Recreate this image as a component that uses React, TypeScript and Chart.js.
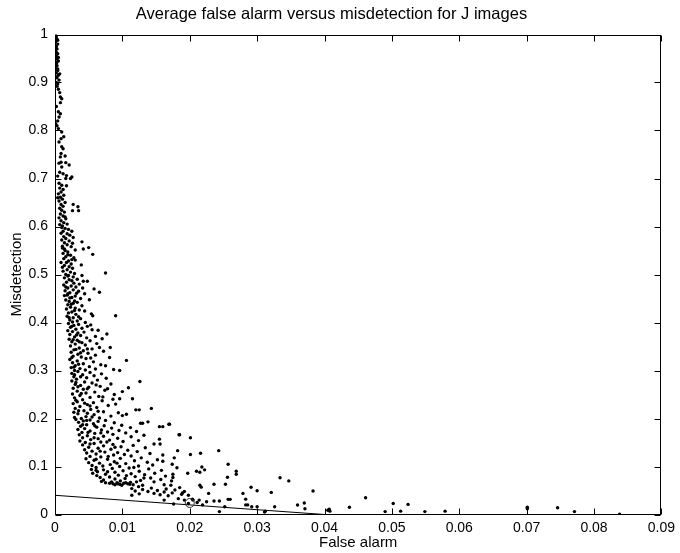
import { useEffect, useRef } from "react";
import { Chart, registerables } from "chart.js";

Chart.register(...registerables);

const chartTitle = "Average false alarm versus misdetection for J images";
const xAxisLabel = "False alarm";
const yAxisLabel = "Misdetection";

const xMin = 0;
const xMax = 0.09;
const xStep = 0.01;
const yMin = 0;
const yMax = 1;
const yStep = 0.1;

// [false alarm, misdetection]
const scatterPoints: [number, number][] = [
  // 1.0 - 0.9
  [0.0002, 0.995], [0.0003, 0.99], [0.0001, 0.985], [0.0004, 0.98], [0.0002, 0.975], [0.0003, 0.97], [0.0001, 0.965],
  [0.0004, 0.96], [0.0002, 0.955], [0.0003, 0.95], [0.0005, 0.945], [0.0002, 0.94], [0.0003, 0.935], [0.0001, 0.93],
  [0.0004, 0.925], [0.0002, 0.92], [0.0005, 0.915], [0.0003, 0.91], [0.0006, 0.905], [0.0002, 0.9], [0.0001, 0.998],
  [0.0004, 0.988], [0.0002, 0.962], [0.0005, 0.952], [0.0003, 0.943], [0.0001, 0.912], [0.0004, 0.928], [0.0007, 0.918],
  // 0.9 - 0.8
  [0.0004, 0.897], [0.0005, 0.886], [0.0007, 0.879], [0.0008, 0.87], [0.001, 0.866], [0.0008, 0.858], [0.0005, 0.839],
  [0.0008, 0.835], [0.0006, 0.828], [0.0001, 0.814], [0.0003, 0.81], [0.0005, 0.804], [0.0002, 0.85], [0.0003, 0.892],
  [0.0004, 0.82],
  // 0.8 - 0.7
  [0.001, 0.797], [0.0013, 0.787], [0.0009, 0.783], [0.0006, 0.776], [0.001, 0.766], [0.0012, 0.762], [0.0008, 0.745],
  [0.0015, 0.747], [0.0009, 0.734], [0.0016, 0.733], [0.0006, 0.732], [0.001, 0.724], [0.0021, 0.728], [0.0007, 0.713],
  [0.0012, 0.71], [0.0017, 0.706], [0.0016, 0.7], [0.0023, 0.7], [0.0025, 0.703], [0.0004, 0.705], [0.0009, 0.752],
  // 0.7 - 0.6
  [0.0006, 0.69], [0.001, 0.686], [0.0007, 0.68], [0.0012, 0.677], [0.0009, 0.672], [0.0005, 0.668], [0.0013, 0.665],
  [0.0008, 0.661], [0.0011, 0.657], [0.0006, 0.653], [0.0015, 0.65], [0.0009, 0.646], [0.0027, 0.646], [0.0034, 0.641],
  [0.0012, 0.642], [0.0007, 0.638], [0.0026, 0.633], [0.0035, 0.633], [0.001, 0.634], [0.0014, 0.63], [0.0008, 0.626],
  [0.0012, 0.622], [0.0006, 0.618], [0.0016, 0.616], [0.0009, 0.612], [0.0013, 0.608], [0.0007, 0.604], [0.0011, 0.601],
  [0.0018, 0.605], [0.0015, 0.62], [0.0004, 0.66], [0.0017, 0.685],
  // 0.6 - 0.5
  [0.001, 0.598], [0.0015, 0.596], [0.002, 0.594], [0.0012, 0.59], [0.0025, 0.59], [0.0009, 0.586], [0.0018, 0.585],
  [0.0022, 0.582], [0.0013, 0.579], [0.0027, 0.577], [0.0016, 0.575], [0.001, 0.572], [0.0021, 0.57], [0.004, 0.568],
  [0.0014, 0.566], [0.0018, 0.562], [0.0011, 0.559], [0.0024, 0.558], [0.005, 0.556], [0.0042, 0.553], [0.003, 0.551],
  [0.0015, 0.55], [0.0019, 0.547], [0.0012, 0.544], [0.0056, 0.542], [0.0023, 0.54], [0.0016, 0.537], [0.0028, 0.535],
  [0.0013, 0.533], [0.003, 0.53], [0.002, 0.528], [0.0017, 0.525], [0.0024, 0.522], [0.0039, 0.52], [0.0014, 0.519],
  [0.0021, 0.516], [0.0026, 0.513], [0.0018, 0.51], [0.0012, 0.507], [0.0023, 0.505], [0.0075, 0.503], [0.0029, 0.502],
  [0.0016, 0.5], [0.0011, 0.555], [0.0026, 0.565], [0.0009, 0.525], [0.0014, 0.553], [0.0019, 0.541], [0.0025, 0.531],
  [0.0011, 0.515],
  // 0.5 - 0.4
  [0.002, 0.498], [0.004, 0.498], [0.0027, 0.495], [0.0014, 0.493], [0.0033, 0.49], [0.0021, 0.489], [0.0042, 0.486],
  [0.0048, 0.486], [0.0017, 0.484], [0.0028, 0.482], [0.0036, 0.48], [0.0013, 0.478], [0.0024, 0.476], [0.0031, 0.474],
  [0.0019, 0.472], [0.0058, 0.47], [0.0027, 0.468], [0.0015, 0.466], [0.0035, 0.465], [0.0066, 0.463], [0.0022, 0.462],
  [0.0044, 0.46], [0.0018, 0.457], [0.003, 0.455], [0.0025, 0.452], [0.0038, 0.45], [0.0051, 0.4475], [0.0016, 0.447],
  [0.0021, 0.444], [0.0033, 0.442], [0.0027, 0.44], [0.0019, 0.437], [0.004, 0.435], [0.0023, 0.432], [0.003, 0.43],
  [0.0017, 0.428], [0.0036, 0.426], [0.0044, 0.424], [0.0025, 0.422], [0.002, 0.42], [0.0054, 0.418], [0.0031, 0.417],
  [0.009, 0.414], [0.0056, 0.414], [0.0018, 0.413], [0.0027, 0.41], [0.0038, 0.408], [0.0022, 0.405], [0.0033, 0.403],
  [0.0045, 0.4], [0.0026, 0.401], [0.0019, 0.46], [0.0041, 0.472], [0.0029, 0.445], [0.0019, 0.497], [0.0025, 0.487],
  [0.0016, 0.474], [0.0022, 0.451], [0.0014, 0.456], [0.0032, 0.461], [0.0024, 0.438], [0.0029, 0.425], [0.0021, 0.41],
  [0.0035, 0.412],
  // 0.4 - 0.3
  [0.002, 0.398], [0.0035, 0.396], [0.0028, 0.394], [0.0048, 0.392], [0.0023, 0.39], [0.004, 0.388], [0.0031, 0.386],
  [0.0055, 0.385], [0.0019, 0.383], [0.0026, 0.381], [0.0043, 0.38], [0.0034, 0.378], [0.0077, 0.376], [0.0022, 0.375],
  [0.0038, 0.373], [0.006, 0.371], [0.0029, 0.37], [0.0047, 0.368], [0.007, 0.366], [0.0021, 0.365], [0.0033, 0.363],
  [0.0052, 0.362], [0.0025, 0.36], [0.004, 0.358], [0.0062, 0.356], [0.003, 0.355], [0.0045, 0.353], [0.0023, 0.351],
  [0.0082, 0.348], [0.0066, 0.348], [0.0036, 0.347], [0.0055, 0.345], [0.0028, 0.343], [0.0042, 0.341], [0.0072, 0.34],
  [0.0024, 0.338], [0.0049, 0.336], [0.0034, 0.334], [0.006, 0.332], [0.0027, 0.33], [0.0039, 0.328], [0.0081, 0.327],
  [0.0046, 0.325], [0.0022, 0.323], [0.0106, 0.321], [0.0033, 0.32], [0.0057, 0.318], [0.0026, 0.316], [0.0042, 0.314],
  [0.0068, 0.312], [0.003, 0.31], [0.0051, 0.308], [0.0024, 0.306], [0.0037, 0.304], [0.0087, 0.302], [0.0096, 0.3],
  [0.0045, 0.301], [0.006, 0.303], [0.0029, 0.3], [0.0075, 0.31], [0.0053, 0.395], [0.0064, 0.384], [0.0025, 0.392],
  [0.0032, 0.374], [0.0027, 0.364], [0.0036, 0.36], [0.0031, 0.344], [0.0038, 0.337], [0.0025, 0.327], [0.0035, 0.313],
  [0.0028, 0.307], [0.0048, 0.345], [0.0053, 0.326],
  // 0.3 - 0.2
  [0.0034, 0.298], [0.0052, 0.296], [0.0025, 0.294], [0.0069, 0.293], [0.0041, 0.291], [0.0058, 0.289], [0.0028, 0.287],
  [0.0047, 0.285], [0.0076, 0.284], [0.0032, 0.282], [0.0063, 0.28], [0.0126, 0.277], [0.0025, 0.278], [0.0044, 0.276],
  [0.0055, 0.274], [0.0083, 0.272], [0.003, 0.271], [0.0038, 0.269], [0.0067, 0.267], [0.005, 0.265], [0.0109, 0.264],
  [0.0027, 0.263], [0.0042, 0.261], [0.0074, 0.259], [0.0033, 0.257], [0.01, 0.256], [0.0059, 0.255], [0.0046, 0.253],
  [0.0026, 0.251], [0.0088, 0.25], [0.0037, 0.248], [0.0065, 0.246], [0.0052, 0.244], [0.0029, 0.243], [0.0096, 0.241],
  [0.0115, 0.241], [0.0086, 0.24], [0.0041, 0.239], [0.007, 0.237], [0.0033, 0.235], [0.0057, 0.233], [0.0027, 0.231],
  [0.0048, 0.229], [0.0079, 0.227], [0.0037, 0.225], [0.0062, 0.223], [0.0143, 0.221], [0.003, 0.221], [0.0125, 0.218],
  [0.012, 0.218], [0.0053, 0.219], [0.0043, 0.216], [0.0072, 0.214], [0.0028, 0.213], [0.0106, 0.209], [0.0034, 0.21],
  [0.0058, 0.208], [0.01, 0.206], [0.0083, 0.205], [0.0046, 0.204], [0.0029, 0.202], [0.0066, 0.201], [0.0039, 0.2],
  [0.009, 0.23], [0.0061, 0.27], [0.0094, 0.212], [0.0029, 0.291], [0.0038, 0.287], [0.0031, 0.275], [0.0048, 0.262],
  [0.0034, 0.266], [0.0039, 0.252], [0.0031, 0.238], [0.0044, 0.232], [0.0052, 0.226], [0.0035, 0.216], [0.0048, 0.211],
  [0.0055, 0.203], [0.0071, 0.245], [0.0078, 0.262], [0.0064, 0.215],
  // 0.2 - 0.15
  [0.0031, 0.198], [0.0052, 0.197], [0.0075, 0.196], [0.0042, 0.195], [0.0138, 0.193], [0.0064, 0.194], [0.0127, 0.19],
  [0.013, 0.19], [0.0169, 0.188], [0.017, 0.188], [0.0035, 0.192], [0.0088, 0.191], [0.0057, 0.189], [0.0047, 0.187],
  [0.0099, 0.186], [0.0073, 0.185], [0.0038, 0.184], [0.016, 0.183], [0.0155, 0.183], [0.0062, 0.182], [0.0112, 0.181],
  [0.0084, 0.18], [0.0044, 0.179], [0.0034, 0.177], [0.0069, 0.176], [0.0095, 0.175], [0.0052, 0.174], [0.0121, 0.173],
  [0.0078, 0.172], [0.004, 0.171], [0.0105, 0.17], [0.0059, 0.169], [0.0086, 0.167], [0.0184, 0.166], [0.0036, 0.166],
  [0.0132, 0.165], [0.0048, 0.164], [0.0072, 0.163], [0.0113, 0.162], [0.0201, 0.16], [0.0041, 0.16], [0.0093, 0.159],
  [0.0064, 0.158], [0.0155, 0.157], [0.0053, 0.156], [0.0081, 0.155], [0.0124, 0.154], [0.0037, 0.153], [0.0101, 0.152],
  [0.0068, 0.151], [0.0045, 0.15], [0.0185, 0.166], [0.0047, 0.196], [0.0059, 0.185], [0.0041, 0.187], [0.0068, 0.17],
  [0.0049, 0.171], [0.0058, 0.16], [0.0077, 0.151],
  // 0.15 - 0.1
  [0.0147, 0.147], [0.0156, 0.147], [0.0058, 0.148], [0.0086, 0.146], [0.0041, 0.145], [0.0116, 0.144], [0.0072, 0.143],
  [0.0098, 0.141], [0.005, 0.14], [0.0134, 0.139], [0.0064, 0.138], [0.0083, 0.136], [0.0044, 0.135], [0.0182, 0.133],
  [0.0243, 0.133], [0.0108, 0.134], [0.0055, 0.132], [0.0122, 0.131], [0.0074, 0.13], [0.0093, 0.129], [0.0047, 0.128],
  [0.0216, 0.1275], [0.0141, 0.127], [0.0061, 0.126], [0.016, 0.124], [0.0201, 0.125], [0.0087, 0.124], [0.0113, 0.122],
  [0.0052, 0.121], [0.0068, 0.12], [0.0177, 0.118], [0.0128, 0.118], [0.0097, 0.117], [0.0046, 0.116], [0.0078, 0.115],
  [0.0152, 0.114], [0.0058, 0.113], [0.0118, 0.112], [0.0088, 0.11], [0.0137, 0.109], [0.005, 0.108], [0.0066, 0.107],
  [0.0105, 0.106], [0.0174, 0.1046], [0.0257, 0.1046], [0.0082, 0.104], [0.0145, 0.103], [0.0055, 0.102], [0.0124, 0.101],
  [0.0096, 0.1], [0.0071, 0.101], [0.016, 0.111], [0.0052, 0.147], [0.0067, 0.132], [0.0089, 0.14], [0.0103, 0.125],
  [0.0079, 0.121], [0.0061, 0.115], [0.0092, 0.107],
  // 0.1 - 0.06
  [0.0181, 0.0975], [0.0218, 0.099], [0.0061, 0.098], [0.011, 0.097], [0.0085, 0.096], [0.0139, 0.095], [0.0054, 0.094],
  [0.0072, 0.093], [0.0158, 0.092], [0.0101, 0.091], [0.021, 0.09], [0.0269, 0.09], [0.0125, 0.09], [0.0063, 0.089],
  [0.0089, 0.088], [0.0197, 0.086], [0.0056, 0.086], [0.0148, 0.086], [0.0113, 0.085], [0.0269, 0.084], [0.0175, 0.084],
  [0.0075, 0.084], [0.0133, 0.083], [0.0094, 0.082], [0.0062, 0.081], [0.0164, 0.08], [0.0119, 0.079], [0.0081, 0.078],
  [0.0256, 0.0775], [0.0175, 0.077], [0.0334, 0.0767], [0.0067, 0.077], [0.0142, 0.076], [0.0104, 0.075], [0.0089, 0.074],
  [0.0157, 0.073], [0.0072, 0.072], [0.0127, 0.071], [0.0347, 0.07], [0.0173, 0.07], [0.0097, 0.07], [0.0069, 0.069],
  [0.0084, 0.068], [0.0147, 0.068], [0.0112, 0.067], [0.0092, 0.066], [0.0075, 0.066], [0.0102, 0.065], [0.0086, 0.064],
  [0.0108, 0.064], [0.0096, 0.063], [0.0236, 0.063], [0.0253, 0.063], [0.0116, 0.062], [0.0162, 0.062], [0.0172, 0.061],
  [0.0215, 0.061], [0.013, 0.061], [0.0081, 0.065], [0.0089, 0.062], [0.0099, 0.061], [0.0105, 0.066], [0.0111, 0.063],
  [0.0093, 0.064], [0.0222, 0.093], [0.0215, 0.088], [0.0117, 0.098], [0.0132, 0.076], [0.0121, 0.068], [0.0061, 0.092],
  [0.0078, 0.089], [0.0106, 0.081],
  // 0.06 - 0.04
  [0.0217, 0.057], [0.0291, 0.0567], [0.0124, 0.058], [0.0185, 0.056], [0.0143, 0.055], [0.0114, 0.054], [0.0165, 0.053],
  [0.013, 0.052], [0.0178, 0.051], [0.03, 0.0496], [0.0383, 0.049], [0.0152, 0.05], [0.0119, 0.049], [0.0138, 0.048],
  [0.0192, 0.048], [0.0162, 0.047], [0.0321, 0.046], [0.0174, 0.045], [0.0228, 0.044], [0.0279, 0.044], [0.0147, 0.044],
  [0.0125, 0.043], [0.0188, 0.042], [0.0156, 0.041], [0.0114, 0.04], [0.0198, 0.04], [0.0168, 0.039], [0.0189, 0.045],
  // below 0.04
  [0.0257, 0.0316], [0.026, 0.0316], [0.0283, 0.032], [0.0162, 0.03], [0.0205, 0.03], [0.0214, 0.03], [0.0236, 0.028],
  [0.0244, 0.028], [0.0211, 0.025], [0.0198, 0.023], [0.0219, 0.02], [0.0283, 0.02], [0.0286, 0.02], [0.0292, 0.016],
  [0.03, 0.016], [0.0326, 0.016], [0.0244, 0.006], [0.0312, 0.007], [0.0311, 0.005], [0.036, 0.0198], [0.037, 0.024],
  [0.0371, 0.012], [0.0407, 0.011], [0.0408, 0.007], [0.0437, 0.015], [0.0461, 0.035], [0.049, 0.006], [0.0502, 0.023],
  [0.0513, 0.007], [0.0524, 0.021], [0.0549, 0.006], [0.0579, 0.007], [0.0701, 0.015], [0.0701, 0.012], [0.0746, 0.014],
  [0.0771, 0.006], [0.0838, 0.0005], [0.0405, 0.009], [0.0183, 0.033], [0.0176, 0.022], [0.0192, 0.03], [0.0225, 0.0267],
  [0.0252, 0.016], [0.0204, 0.0317],
];

const boundaryLineX = [0, 0.04];
const boundaryLineY = [0.04, 0];

const operatingPointX = [0.02];
const operatingPointY = [0.024];

const fontFamily = "'Liberation Sans', Arial, Helvetica, sans-serif";

const framePlugin = {
  id: "matlabFrame",
  afterDraw(chart: any) {
    const { ctx, chartArea: a, scales } = chart;
    const L = Math.round(a.left) + 0.5;
    const R = Math.round(a.right) - 0.5;
    const T = Math.round(a.top) + 0.5;
    const B = Math.round(a.bottom) - 0.5;
    const len = 6;
    ctx.save();
    ctx.strokeStyle = "#000";
    ctx.lineWidth = 1;
    ctx.strokeRect(L, T, R - L, B - T);
    ctx.beginPath();
    scales.x.ticks.forEach((t: any) => {
      const p = Math.round(scales.x.getPixelForValue(t.value)) + 0.5;
      ctx.moveTo(p, B);
      ctx.lineTo(p, B - len);
      ctx.moveTo(p, T);
      ctx.lineTo(p, T + len);
    });
    scales.y.ticks.forEach((t: any) => {
      const p = Math.round(scales.y.getPixelForValue(t.value)) + 0.5;
      ctx.moveTo(L, p);
      ctx.lineTo(L + len, p);
      ctx.moveTo(R, p);
      ctx.lineTo(R - len, p);
    });
    ctx.stroke();
    ctx.restore();
  },
};

export default function App() {
  const canvasRef = useRef<HTMLCanvasElement | null>(null);

  useEffect(() => {
    if (!canvasRef.current) return;
    const chart = new Chart(canvasRef.current, {
      type: "scatter",
      data: {
        datasets: [
          {
            label: "operating point",
            data: operatingPointX.map((x, i) => ({ x, y: operatingPointY[i] })),
            pointRadius: 4.5,
            pointBackgroundColor: "rgba(0,0,0,0)",
            pointBorderColor: "#333",
            pointBorderWidth: 1,
            showLine: false,
          },
          {
            label: "boundary",
            data: boundaryLineX.map((x, i) => ({ x, y: boundaryLineY[i] })),
            showLine: true,
            borderColor: "#000",
            borderWidth: 1,
            pointRadius: 0,
          },
          {
            label: "images",
            data: scatterPoints.map(([x, y]) => ({ x, y })),
            pointRadius: 1.7,
            pointBackgroundColor: "#000",
            pointBorderWidth: 0,
            showLine: false,
          },
        ],
      },
      options: {
        responsive: false,
        animation: false,
        layout: { padding: { left: 0, right: 17, top: 0, bottom: 0 } },
        plugins: {
          legend: { display: false },
          tooltip: { enabled: false },
          title: {
            display: true,
            text: chartTitle,
            color: "#000",
            font: { family: fontFamily, size: 16.5, weight: "normal" },
            padding: { top: 5, bottom: 9.7 },
          },
        },
        scales: {
          x: {
            type: "linear",
            min: xMin,
            max: xMax,
            grid: { display: false, drawTicks: false },
            border: { display: false },
            ticks: {
              stepSize: xStep,
              color: "#000",
              padding: 5,
              maxRotation: 0,
              font: { family: fontFamily, size: 14 },
              callback: (v: any) => String(Number(Number(v).toFixed(2))),
            },
            title: {
              display: true,
              text: xAxisLabel,
              color: "#000",
              font: { family: fontFamily, size: 15 },
              padding: { top: 0, bottom: 1 },
            },
            afterFit: (s: any) => {
              s.height = 38.5;
            },
          },
          y: {
            type: "linear",
            min: yMin,
            max: yMax,
            grid: { display: false, drawTicks: false },
            border: { display: false },
            ticks: {
              stepSize: yStep,
              color: "#000",
              padding: 7,
              font: { family: fontFamily, size: 14 },
              callback: (v: any) => String(Number(Number(v).toFixed(1))),
            },
            title: {
              display: true,
              text: yAxisLabel,
              color: "#000",
              font: { family: fontFamily, size: 15 },
              padding: { top: 8, bottom: 0 },
            },
            afterFit: (s: any) => {
              s.width = 55;
            },
          },
        },
      },
      plugins: [framePlugin],
    });
    return () => chart.destroy();
  }, []);

  return (
    <div style={{ position: "absolute", left: 0, top: 0, width: 680, height: 553, background: "#fff" }}>
      <canvas ref={canvasRef} width={680} height={553} />
    </div>
  );
}
